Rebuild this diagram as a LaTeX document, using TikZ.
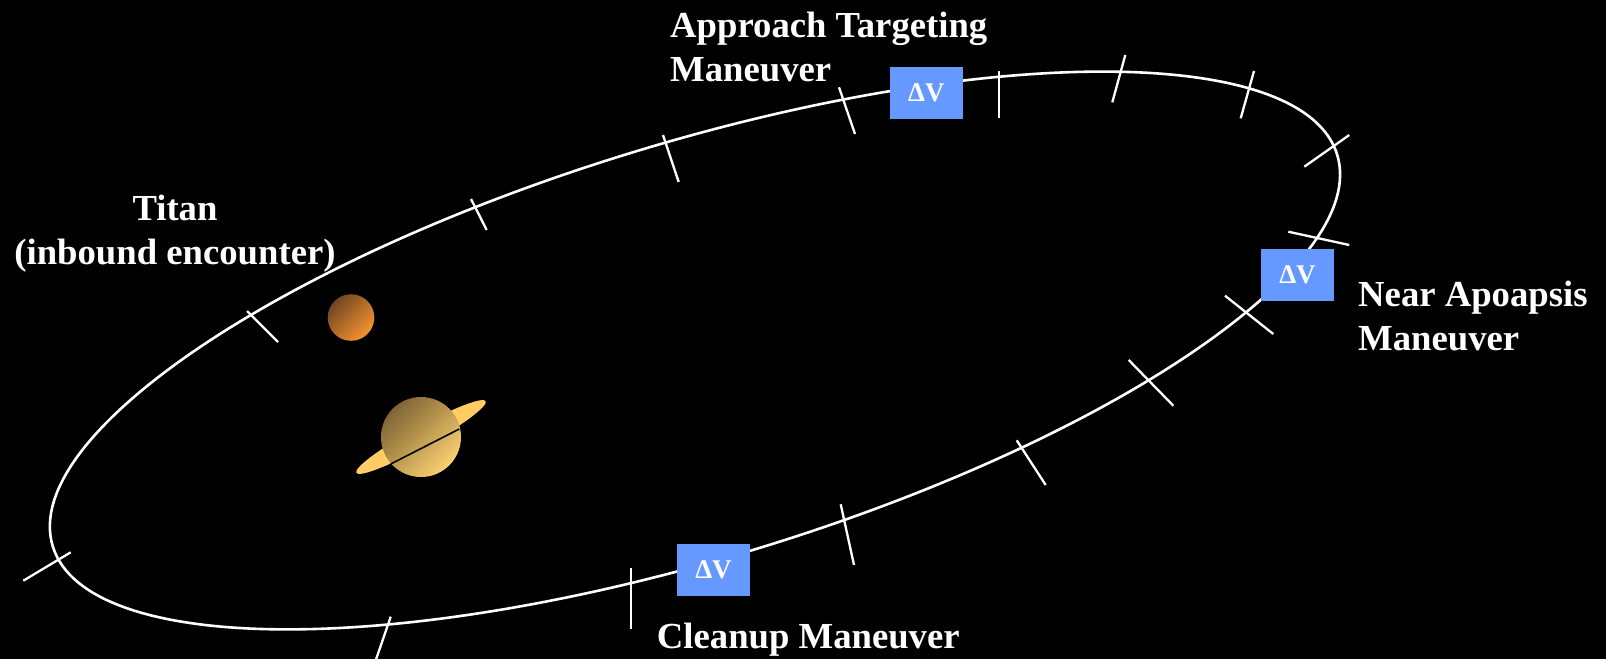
\documentclass[tikz,border=0pt]{standalone}
\usepackage{fontspec}
\setmainfont{Liberation Serif}
\definecolor{dvblue}{RGB}{102,153,255}
\definecolor{ringcol}{RGB}{255,204,102}
\definecolor{titandark}{RGB}{112,70,34}
\definecolor{titanlight}{RGB}{246,148,46}
\definecolor{satdark}{RGB}{128,100,52}
\definecolor{satlight}{RGB}{250,208,112}
\begin{document}
\begin{tikzpicture}[x=1pt,y=-1pt,
  lbl/.style={text=white, inner sep=0pt, font=\bfseries\fontsize{36.7}{44}\selectfont},
  dvbox/.style={fill=dvblue, text=white, minimum width=73pt, minimum height=52pt,
                inner sep=0pt, font=\bfseries\fontsize{27}{27}\selectfont},
  orbit/.style={draw=white, line width=2.6pt},
  tickmark/.style={draw=white, line width=2.3pt}]

% background
\fill[black] (0,0) rectangle (1606,659);
\useasboundingbox (0,0) rectangle (1606,659);

% orbit
\coordinate (oc) at (695,350.5);
\draw[orbit, rotate around={16.95:(oc)}] (oc) ellipse [x radius=671.4pt, y radius=207.7pt];

% tick marks along the orbit
\draw[tickmark] (23.3,580.7) -- (70.7,552.3);
\draw[tickmark] (390.7,616.7) -- (375.5,661);
\draw[tickmark] (247,311) -- (278,342);
\draw[tickmark] (471,199) -- (486.7,230);
\draw[tickmark] (663,135) -- (678.7,182);
\draw[tickmark] (839,87.3) -- (855,134);
\draw[tickmark] (999,71) -- (999,118.3);
\draw[tickmark] (1125.3,55) -- (1112.3,102.3);
\draw[tickmark] (1254,71) -- (1240.7,118.3);
\draw[tickmark] (1349.3,135) -- (1304.3,166.7);
\draw[tickmark] (1288.3,231.7) -- (1349.3,245);
\draw[tickmark] (1225,295.7) -- (1273.3,334);
\draw[tickmark] (1128.7,360) -- (1173.3,405.7);
\draw[tickmark] (1016.7,440.3) -- (1045.7,485);
\draw[tickmark] (840.7,504.3) -- (854,565);
\draw[tickmark] (630.7,568.3) -- (630.7,629);

% Titan
\node[circle, inner sep=0pt, minimum size=46.6pt,
      top color=titandark, bottom color=titanlight, shading angle=45] (titan) at (351,317.5) {};

% Saturn with its ring
\coordinate (sc) at (421,437);
\fill[ringcol, rotate around={29:(sc)}] (sc) ellipse [x radius=74pt, y radius=10pt];
\node[circle, inner sep=0pt, minimum size=80pt,
      top color=satdark, bottom color=satlight, shading angle=45] (saturn) at (sc) {};
\draw[black, line width=1.6pt] (390.7,464) -- (459.3,429);

% manoeuvre boxes
\node[dvbox] (dv1) at (926.3,92.8) {ΔV};
\node[dvbox] (dv2) at (1297.5,275) {ΔV};
\node[dvbox] (dv3) at (713.5,569.7) {ΔV};

% labels (base anchor sits on the last line)
\node[lbl, anchor=base west, align=left] (atm) at (670,81) {Approach Targeting\\Maneuver};
\node[lbl, anchor=base, align=center] (titanlbl) at (175,264) {Titan\\(inbound encounter)};
\node[lbl, anchor=base west, align=left] (nam) at (1358,350.7) {Near Apoapsis\\Maneuver};
\node[lbl, anchor=base west] (cum) at (656.7,648.3) {Cleanup Maneuver};
\end{tikzpicture}
\end{document}
